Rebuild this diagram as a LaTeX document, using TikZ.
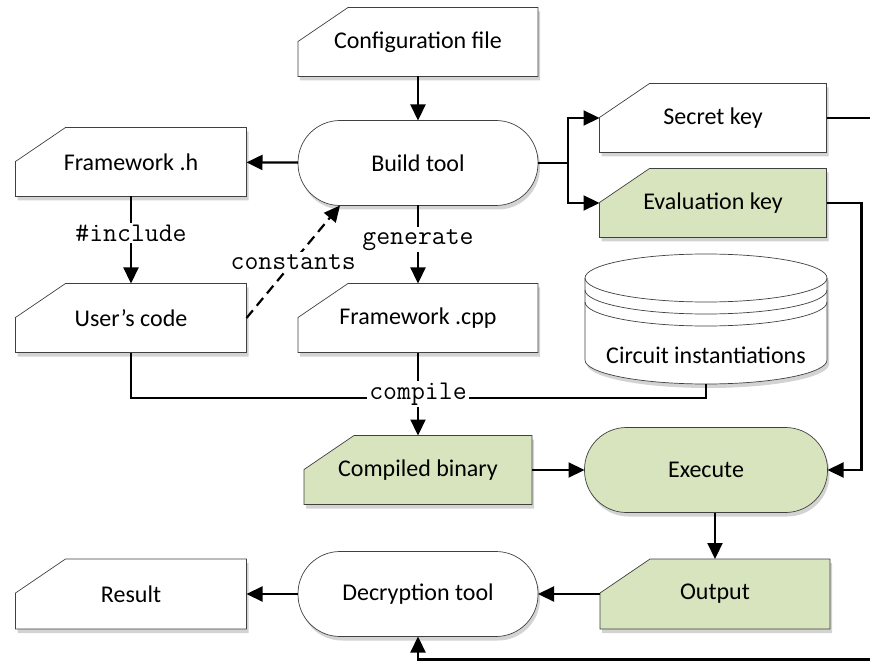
\documentclass[tikz,border=0pt]{standalone}
\usepackage{fontspec}
\setmainfont{Carlito}
\usepackage{tikz}
\usetikzlibrary{calc,arrows.meta,shadows}

\definecolor{keygreen}{RGB}{215,228,189}

\makeatletter
\pgfdeclareshape{card}{ %box with cut corner
	\inheritsavedanchors[from=rectangle]
	\inheritanchorborder[from=rectangle]
	\inheritanchor[from=rectangle]{center}
	\inheritanchor[from=rectangle]{north}
	\inheritanchor[from=rectangle]{south}
	\inheritanchor[from=rectangle]{east}
	\inheritanchor[from=rectangle]{west}
	\inheritanchor[from=rectangle]{north east}
	\inheritanchor[from=rectangle]{north west}
	\inheritanchor[from=rectangle]{south east}
	\inheritanchor[from=rectangle]{south west}
	\backgroundpath{
		\southwest \pgf@xa=\pgf@x \pgf@ya=\pgf@y
		\northeast \pgf@xb=\pgf@x \pgf@yb=\pgf@y
		\pgf@xc=\pgf@xa \advance\pgf@xc by 50pt
		\pgf@yc=\pgf@yb \advance\pgf@yc by -34pt
		\pgfpathmoveto{\pgfqpoint{\pgf@xa}{\pgf@ya}}
		\pgfpathlineto{\pgfqpoint{\pgf@xb}{\pgf@ya}}
		\pgfpathlineto{\pgfqpoint{\pgf@xb}{\pgf@yb}}
		\pgfpathlineto{\pgfqpoint{\pgf@xc}{\pgf@yb}}
		\pgfpathlineto{\pgfqpoint{\pgf@xa}{\pgf@yc}}
		\pgfpathclose
	}
}
\makeatother

\tikzset{
	shade/.style={drop shadow={shadow xshift=2pt,shadow yshift=-4pt,opacity=.35}},
	box/.style={shape=card,draw=black!75,line width=.7pt,fill=white,shade,
		minimum width=231pt,minimum height=69pt,inner sep=0pt,outer sep=0pt,
		font=\fontsize{24}{28}\selectfont},
	term/.style={box,shape=rectangle,rounded corners=42pt,minimum width=240pt,minimum height=85pt},
	key/.style={fill=keygreen},
	conn/.style={line width=2.2pt},
	lbl/.style={fill=white,inner sep=2pt,font=\ttfamily\fontsize{27}{29}\selectfont},
	>={Triangle[length=16pt,width=15pt]}
}

\begin{document}
\begin{tikzpicture}[x=1pt,y=-1pt]
	\useasboundingbox (0,0) rectangle (870,668);
	\clip (0,0) rectangle (870,668);
	\node[box,minimum width=240pt] (config) at (418,42) {Configuration file}; %config
	\node[term] (build) at (418,163) {Build tool};
	\node[box] (fwh) at (131,162) {Framework .h};
	\node[box,minimum width=227pt] (secret) at (713,118) {Secret key};
	\node[box,key,minimum width=227pt] (evalkey) at (713,203) {Evaluation key};
	\node[box] (user) at (131,318) {User’s code};
	\node[box,minimum width=240pt] (fwcpp) at (418,318) {Framework .cpp};
	% circuit store
	\filldraw[fill=white,draw=black!75,line width=.7pt,shade] (585,278) -- (585,360)
		arc[start angle=180,end angle=360,x radius=121pt,y radius=24pt] -- (827,278)
		arc[start angle=0,end angle=180,x radius=121pt,y radius=24pt] -- cycle;
	\foreach \y in {278,290,302}{
		\draw[draw=black!75,line width=.7pt] (585,\y) arc[start angle=180,end angle=360,x radius=121pt,y radius=24pt];
	}
	\node[font=\fontsize{24}{28}\selectfont] (circ) at (706,355) {Circuit instantiations};
	\coordinate (circbot) at (706,384);
	\node[box,key,minimum width=228pt] (binary) at (418,470) {Compiled binary};
	\node[term,key,minimum width=243pt] (execute) at (706,470) {Execute};
	\node[box,key,minimum width=230pt,minimum height=70pt] (output) at (715,594) {Output};
	\node[term] (decrypt) at (418,594) {Decryption tool};
	\node[box,minimum height=70pt] (result) at (131,594) {Result};
	\coordinate (cmp) at (418,398);
	\coordinate (cst) at ($(build.south west)+(42,0)$);
	% connectors
	\draw[conn,->] (config) -- (build);
	\draw[conn,->] (build) -- (fwh);
	\draw[conn,->] (build.east) -- ++(30,0) |- (secret.west);
	\draw[conn,->] (build.east) -- ++(30,0) |- (evalkey.west);
	\draw[conn,->] (secret.east) -- ++(63,0) |- ($(decrypt.south)+(0,23)$) -- (decrypt.south);
	\draw[conn,->] (evalkey.east) -- ++(35,0) |- (execute.east);
	\draw[conn,->] (fwh) -- node[lbl,pos=.42] {\#include} (user);
	\draw[conn,->,dash pattern=on 10pt off 6pt] (user.east) -- node[lbl] {constants} (cst);
	\draw[conn,->] (build) -- node[lbl,pos=.44] {generate} (fwcpp);
	\draw[conn] (user.south) |- (cmp);
	\draw[conn] (circbot) |- (cmp);
	\draw[conn,->] (fwcpp) -- (binary);
	\node[lbl] (compile) at (418,394) {compile};
	\draw[conn,->] (binary) -- (execute);
	\draw[conn,->] (execute.south -| output.north) -- (output);
	\draw[conn,->] (output) -- (decrypt);
	\draw[conn,->] (decrypt) -- (result);
\end{tikzpicture}
\end{document}
